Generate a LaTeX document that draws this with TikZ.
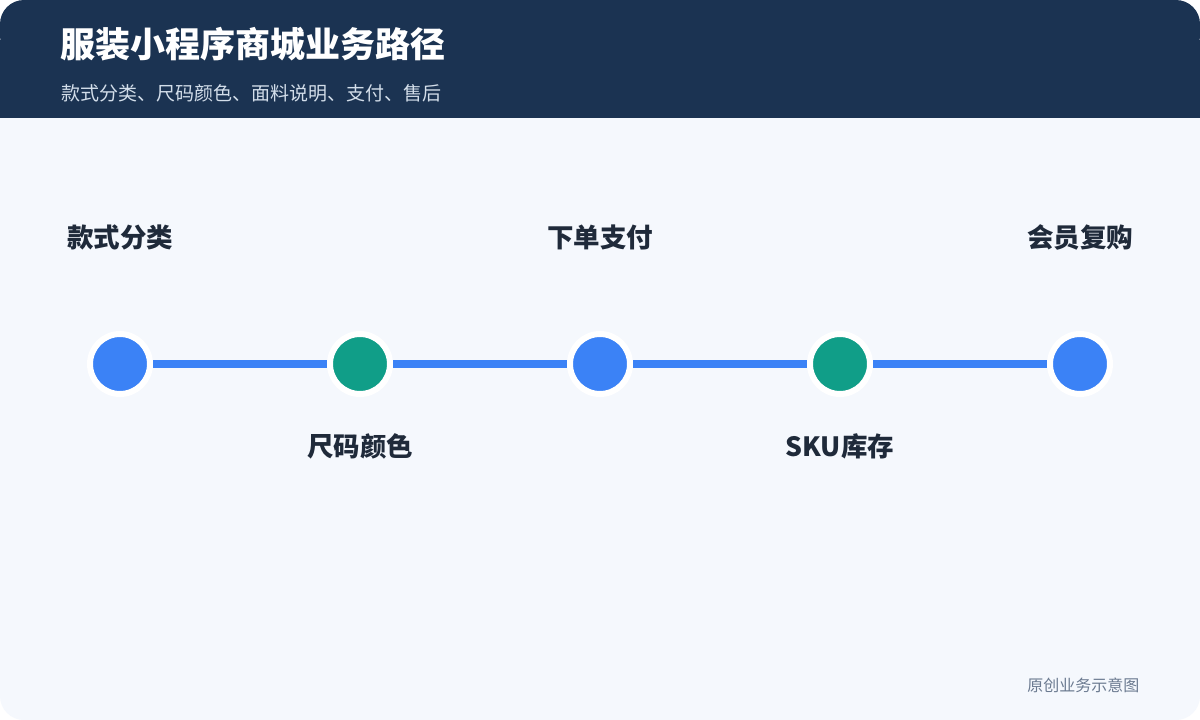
\documentclass[tikz,border=0pt]{standalone}
\usepackage{fontspec}
\setmainfont{Noto Sans CJK SC}
\usetikzlibrary{positioning}
\definecolor{navy}{HTML}{1B3352}
\definecolor{paper}{HTML}{F5F8FD}
\definecolor{stepblue}{HTML}{3B82F6}
\definecolor{stepgreen}{HTML}{109E88}
\definecolor{ink}{HTML}{1F2A3A}
\definecolor{subink}{HTML}{D3DEEA}
\definecolor{footink}{HTML}{6B7A90}
\begin{document}
\begin{tikzpicture}[x=1pt,y=-1pt,
  stop/.style={circle, draw=white, line width=6pt, minimum size=60pt, inner sep=0pt},
  blue stop/.style={stop, fill=stepblue},
  green stop/.style={stop, fill=stepgreen},
  stoplabel/.style={font=\bfseries\fontsize{26.5}{30}\selectfont, text=ink},
  link/.style={stepblue, line width=8pt}
]
\useasboundingbox (0,0) rectangle (1200,720);
% Background and header
\fill[white] (0,0) rectangle (1200,720);
\fill[paper, rounded corners=24pt] (0,0) rectangle (1200,720);
\fill[navy, rounded corners=24pt] (0,0) rectangle (1200,60);
\fill[navy] (0,40) rectangle (1200,118);
\node[anchor=west, text=white, font=\bfseries\fontsize{35}{40}\selectfont] (title) at (57,44) {服装小程序商城业务路径};
\node[anchor=west, text=subink, font=\fontsize{19}{22}\selectfont] (subtitle) at (58,93) {款式分类、尺码颜色、面料说明、支付、售后};

% Stops
\node[blue stop] (s1) at (120,364) {};
\node[green stop] (s2) at (360,364) {};
\node[blue stop] (s3) at (600,364) {};
\node[green stop] (s4) at (840,364) {};
\node[blue stop] (s5) at (1080,364) {};

% Connections
\draw[link] (s1) -- (s2);
\draw[link] (s2) -- (s3);
\draw[link] (s3) -- (s4);
\draw[link] (s4) -- (s5);

% Labels
\node[stoplabel] (l1) at (120,237) {款式分类};
\node[stoplabel] (l2) at (360,446) {尺码颜色};
\node[stoplabel] (l3) at (600,237) {下单支付};
\node[stoplabel] (l4) at (840,446) {SKU库存};
\node[stoplabel] (l5) at (1080,237) {会员复购};

\node[anchor=east, text=footink, font=\fontsize{16}{18}\selectfont] (foot) at (1143,685) {原创业务示意图};
\end{tikzpicture}
\end{document}
